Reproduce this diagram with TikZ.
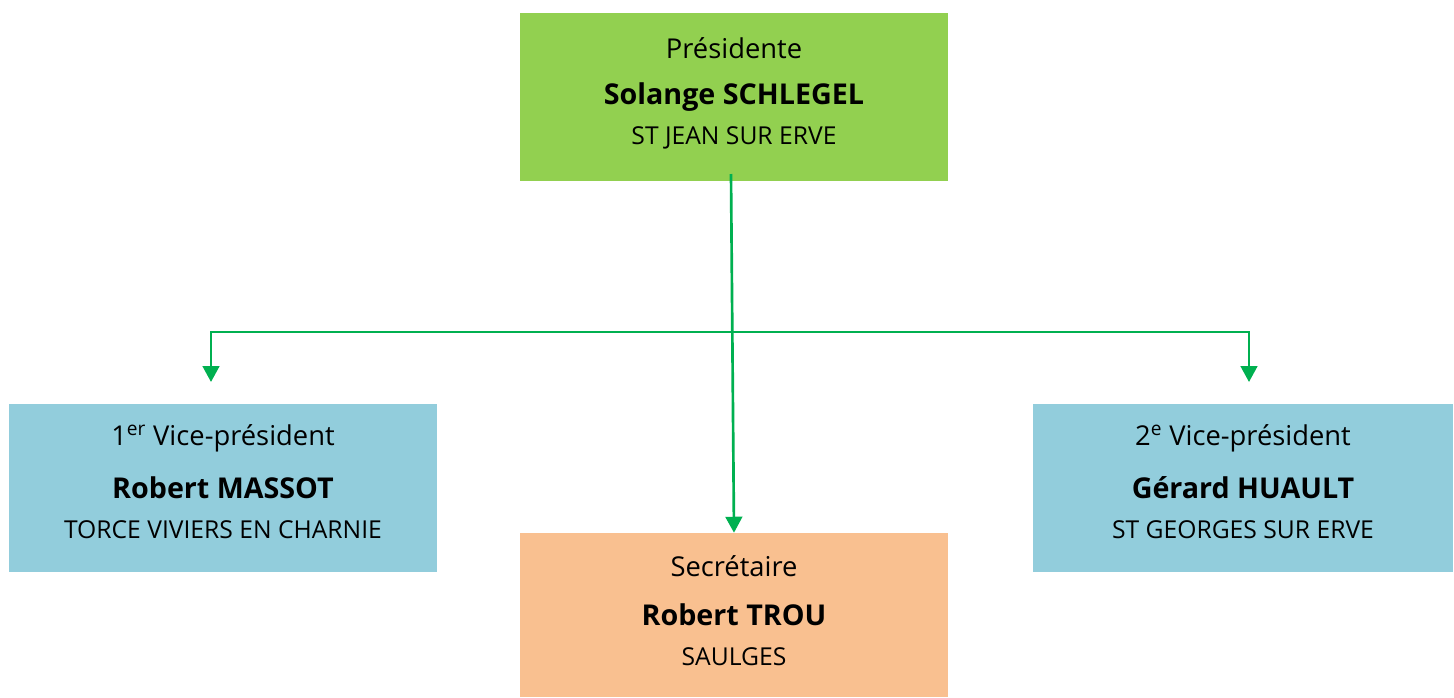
\documentclass[tikz,border=0pt]{standalone}
\usepackage{fontspec}
\setmainfont{Open Sans}
\usepackage{xcolor}
\usetikzlibrary{arrows.meta, positioning}
\definecolor{presgreen}{HTML}{92D050}
\definecolor{vpblue}{HTML}{92CDDC}
\definecolor{secorange}{HTML}{F9C090}
\definecolor{linkgreen}{HTML}{00B050}

\begin{document}
\begin{tikzpicture}[x=0.75pt,y=0.75pt,yscale=-1,xscale=1,
  box/.style={inner sep=0pt, minimum width=321pt, minimum height=126pt},
  role/.style={font=\fontsize{20.5}{24}\selectfont, inner sep=0pt, yshift=37pt},
  person/.style={font=\fontsize{21.5}{26}\selectfont\bfseries, inner sep=0pt},
  town/.style={font=\fontsize{18.5}{22}\selectfont, inner sep=0pt, yshift=-31pt},
  link/.style={draw=linkgreen, line width=2pt},
  tip/.style={-{Triangle[length=12pt,width=12.5pt]}}]
\useasboundingbox (0,0) rectangle (1454,697);

%Shape: Boxes
\node [box, fill=presgreen] (pres) at (734,97) {};
\node [box, fill=vpblue] (vp1) at (223,488) {};
\node [box, fill=vpblue, minimum width=315pt] (vp2) at (1243,488) {};
\node [box, fill=secorange, minimum height=123pt] (sec) at (734,615) {};

% Text Node
\node [role] (presrole) at (pres.center) {Présidente};
\node [person] (presname) at (pres.center) {Solange SCHLEGEL};
\node [town] (prestown) at (pres.center) {ST JEAN SUR ERVE};
% Text Node
\node [role] (vp1role) at (vp1.center) {1\textsuperscript{er} Vice-président};
\node [person] (vp1name) at (vp1.center) {Robert MASSOT};
\node [town] (vp1town) at (vp1.center) {TORCE VIVIERS EN CHARNIE};
% Text Node
\node [role] (vp2role) at (vp2.center) {2\textsuperscript{e} Vice-président};
\node [person] (vp2name) at (vp2.center) {Gérard HUAULT};
\node [town] (vp2town) at (vp2.center) {ST GEORGES SUR ERVE};
% Text Node
\node [role] (secrole) at (sec.center) {Secrétaire};
\node [person] (secname) at (sec.center) {Robert TROU};
\node [town] (sectown) at (sec.center) {SAULGES};

%Straight Lines
\coordinate (presfoot) at (731,174);
\coordinate (bar) at (731,332);
\coordinate (vp1tip) at (211,382);
\coordinate (vp2tip) at (1249,382);
\draw [link, tip] (presfoot) -- (sec.north);
\draw [link, {Triangle[length=12pt,width=12.5pt]}-{Triangle[length=12pt,width=12.5pt]}] (vp1tip) |- (bar) -| (vp2tip);

\end{tikzpicture}
\end{document}
